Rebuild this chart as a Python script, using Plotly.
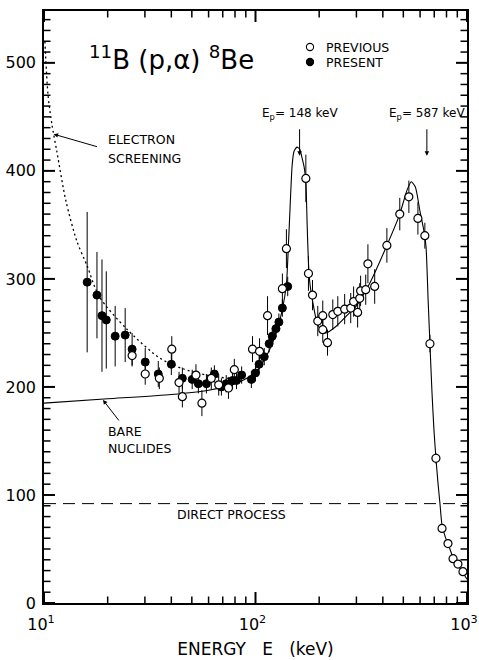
import numpy as np
import plotly.graph_objects as go

# ---- data: astrophysical S-factor of 11B(p,alpha)8Be (MeV b) vs. E (keV) ----
prev_E = [26.1, 30.1, 35.1, 40.2, 43.5, 45.1, 52.3, 55.8, 61.8, 67.0,
          74.5, 79.4, 96.8, 104.5, 114, 134, 140, 173, 178, 186,
          197, 208, 208, 219, 232, 245, 264, 282, 291, 304,
          311, 314, 332, 340, 366, 418, 481, 531, 586, 632,
          668, 713, 762, 813, 859, 906, 957]
prev_S = [229, 212, 208, 235, 204, 191, 211, 185, 208, 202,
          199, 216, 235, 233, 266, 291, 328, 393, 305, 285,
          261, 266, 253, 241, 267, 270, 272, 273, 279, 269,
          282, 289, 290, 314, 293, 331, 360, 376, 356, 340,
          240, 134, 69, 55, 41, 36, 29]
prev_err = [10, 10, 10, 12, 10, 10, 10, 12, 10, 10,
            10, 10, 12, 12, 18, 14, 18, 22, 16, 14,
            14, 14, 12, 12, 14, 14, 14, 14, 14, 14,
            14, 14, 14, 18, 16, 16, 15, 15, 15, 12,
            8, 5, 2, 2, 2, 2, 2]

pres_E = [16.0, 17.8, 18.8, 19.7, 21.7, 24.2, 26.1, 30.1, 34.7, 40.0,
          45.1, 50.2, 53.7, 58.6, 63.9, 69.0, 72.7, 77.9, 81.3, 86.0,
          95.6, 100, 104, 110, 116, 120, 125, 129, 134, 142]
pres_S = [297, 285, 266, 262, 247, 248, 235, 223, 212, 221,
          208, 207, 203, 203, 212, 200, 203, 206, 206, 211,
          207, 213, 221, 228, 240, 247, 254, 260, 273, 293]
pres_err = [65, 40, 52, 45, 28, 25, 15, 13, 12, 10,
            10, 9, 9, 9, 8, 8, 8, 8, 8, 8,
            8, 8, 8, 8, 8, 8, 8, 8, 8, 9]

# bare-nuclide fit through both resonances
fit_E = [10, 20, 40, 60, 80, 100, 110, 120, 128, 134, 140, 143, 146, 149,
         152, 157, 162, 166, 170, 173, 175.5, 178, 181, 186, 195, 205, 215,
         240, 270, 300, 345, 418, 481, 520, 545, 570, 600, 625, 640, 655,
         668, 683, 698, 713, 730, 745, 762, 790, 813, 860, 906, 957, 1000]
fit_S = [185, 189, 193, 197, 203, 213, 225, 240, 256, 272, 295, 330, 370, 405,
         418, 422, 420, 412, 403, 390, 350, 315, 295, 280, 260, 252, 250,
         256, 266, 275, 295, 331, 360, 382, 390, 385, 362, 345, 330, 280,
         240, 195, 160, 134, 110, 92, 72, 61, 55, 42, 35, 28, 22]

# electron-screening enhancement at low energies
scr_E = [10.1, 10.45, 10.9, 11.5, 12.7, 14.3, 16.0, 18.2, 24.5, 35.1, 45.1, 58.5, 81.2]
scr_S = [520, 470, 443, 418, 372, 335, 312, 284, 254, 227, 217, 211, 207]

# direct-process contribution (constant)
direct_E = [10, 1000]
direct_S = [92, 92]

# resonance energies (lab) and where their markers sit on the energy axis
res_labels = ["148", "587"]
res_E = [161.6, 646]

xticks = [10, 100, 1000]
xticktext = ["10<sup>1</sup>", "10<sup>2</sup>", "10<sup>3</sup>"]
xminor = [20, 30, 40, 50, 60, 70, 80, 90, 200, 300, 400, 500, 600, 700, 800, 900]
yticks = [0, 100, 200, 300, 400, 500]
yminor = [v for v in range(10, 548, 10) if v % 100]
x_range = [1, 3]
y_range = [0, 548]

FONT = "DejaVu Sans, sans-serif"
BLACK = "black"

W, H = 479, 660
ML, MR, MT, MB = 44, 12, 11, 57
pw, ph = W - ML - MR, H - MT - MB

# pixel -> data-unit conversion for the inward tick marks
dec_per_px = (x_range[1] - x_range[0]) / pw
y_per_px = (y_range[1] - y_range[0]) / ph
x_lo, x_hi = 10 ** x_range[0], 10 ** x_range[1]


def tick_segments(length_px, xs, ys):
    """Inward tick marks on all four sides, as one broken polyline."""
    tx, ty = [], []
    dy = length_px * y_per_px
    fx = 10 ** (length_px * dec_per_px)
    for v in xs:
        tx += [v, v, None, v, v, None]
        ty += [y_range[0], y_range[0] + dy, None, y_range[1], y_range[1] - dy, None]
    for v in ys:
        tx += [x_lo, x_lo * fx, None, x_hi, x_hi / fx, None]
        ty += [v, v, None, v, v, None]
    return tx, ty


fig = go.Figure()

for length, width, xs, ys in ((11, 2, xticks, yticks), (6.5, 1.5, xminor, yminor)):
    tx, ty = tick_segments(length, xs, ys)
    fig.add_trace(go.Scatter(x=tx, y=ty, mode="lines", connectgaps=False,
                             line=dict(color=BLACK, width=width),
                             showlegend=False, hoverinfo="skip", cliponaxis=False))

fig.add_trace(go.Scatter(x=direct_E, y=direct_S, mode="lines",
                         line=dict(color=BLACK, width=1, dash="12px,7px"),
                         showlegend=False, hoverinfo="skip"))
fig.add_trace(go.Scatter(x=scr_E, y=scr_S, mode="lines",
                         line=dict(color=BLACK, width=1.3, dash="2px,3px", shape="spline", smoothing=0.8),
                         showlegend=False, hoverinfo="skip"))
fig.add_trace(go.Scatter(x=fit_E, y=fit_S, mode="lines",
                         line=dict(color=BLACK, width=1.1, shape="spline", smoothing=0.6),
                         showlegend=False, hoverinfo="skip"))

fig.add_trace(go.Scatter(
    x=pres_E, y=pres_S, mode="markers", name="PRESENT", showlegend=False,
    marker=dict(symbol="circle", size=8, color=BLACK, line=dict(color=BLACK, width=1)),
    error_y=dict(type="data", array=pres_err, color=BLACK, thickness=1, width=0)))
fig.add_trace(go.Scatter(
    x=prev_E, y=prev_S, mode="markers", name="PREVIOUS", showlegend=False,
    marker=dict(symbol="circle", size=8, color="white", line=dict(color=BLACK, width=1.2)),
    error_y=dict(type="data", array=prev_err, color=BLACK, thickness=1, width=0)))


def px(xp):
    return (xp - ML) / pw


def py(yp):
    return (H - MB - yp) / ph


ann = []


def label(text, x, y, size=13.5, xanchor="left"):
    ann.append(dict(text=text, x=px(x), y=py(y), xref="paper", yref="paper",
                    xanchor=xanchor, yanchor="middle", showarrow=False,
                    font=dict(family=FONT, size=size, color=BLACK)))


label("<sup>11</sup>B (p,α) <sup>8</sup>Be", 87, 58, size=26)
label("ELECTRON", 106, 140, size=12.5)
label("SCREENING", 106, 158, size=12.5)
label("BARE", 106, 431, size=12.5)
label("NUCLIDES", 106, 448, size=12.5)
label("DIRECT PROCESS", 175, 514, size=12.5)

shapes = []

# legend keys
legend_rows = [("PREVIOUS", "white", 47), ("PRESENT", BLACK, 62)]
for name, fill, yp in legend_rows:
    r = 3.6
    shapes.append(dict(type="circle", xref="paper", yref="paper",
                       x0=px(310 - r), x1=px(310 + r), y0=py(yp + r), y1=py(yp - r),
                       fillcolor=fill, line=dict(color=BLACK, width=1.1)))
    label(name, 324, yp, size=12.5)

for lab, e in zip(res_labels, res_E):
    ann.append(dict(text=f"E<sub>p</sub>= {lab} keV", x=np.log10(e), y=py(114),
                    xref="x", yref="paper", xanchor="center", yanchor="middle",
                    showarrow=False, font=dict(family=FONT, size=12, color=BLACK)))
    ann.append(dict(text="", x=np.log10(e), y=414, xref="x", yref="y",
                    showarrow=True, arrowhead=2, arrowsize=0.9, arrowwidth=1,
                    arrowcolor=BLACK, ax=0, ay=-28))

# pointers to the screening and bare-nuclide curves
ann.append(dict(text="", x=np.log10(11.1), y=434, xref="x", yref="y", showarrow=True,
                arrowhead=2, arrowsize=0.9, arrowwidth=1, arrowcolor=BLACK, ax=45, ay=13))
ann.append(dict(text="", x=np.log10(19.0), y=188, xref="x", yref="y", showarrow=True,
                arrowhead=2, arrowsize=0.9, arrowwidth=1, arrowcolor=BLACK, ax=17, ay=22))

fig.update_layout(
    template="none",
    width=W, height=H,
    margin=dict(l=ML, r=MR, t=MT, b=MB),
    paper_bgcolor="white", plot_bgcolor="white",
    font=dict(family=FONT, size=15, color=BLACK),
    annotations=ann, shapes=shapes,
    showlegend=False,
)

common = dict(ticks="", showline=True, linewidth=1.5, linecolor=BLACK, mirror=True,
              showgrid=False, zeroline=False, automargin=False)

fig.update_layout(
    xaxis=dict(type="log", range=x_range, tickvals=xticks, ticktext=xticktext,
               ticklabeloverflow="allow", ticklabelshift=-3,
               tickfont=dict(family=FONT, size=16, color=BLACK), ticklabelstandoff=6,
               title=dict(text="ENERGY   E   (keV)", font=dict(family=FONT, size=17, color=BLACK),
                          standoff=10),
               **common),
    yaxis=dict(range=y_range, tickvals=yticks,
               tickfont=dict(family=FONT, size=16, color=BLACK), ticklabelstandoff=3,
               **common),
)

fig.write_html("out.html")
